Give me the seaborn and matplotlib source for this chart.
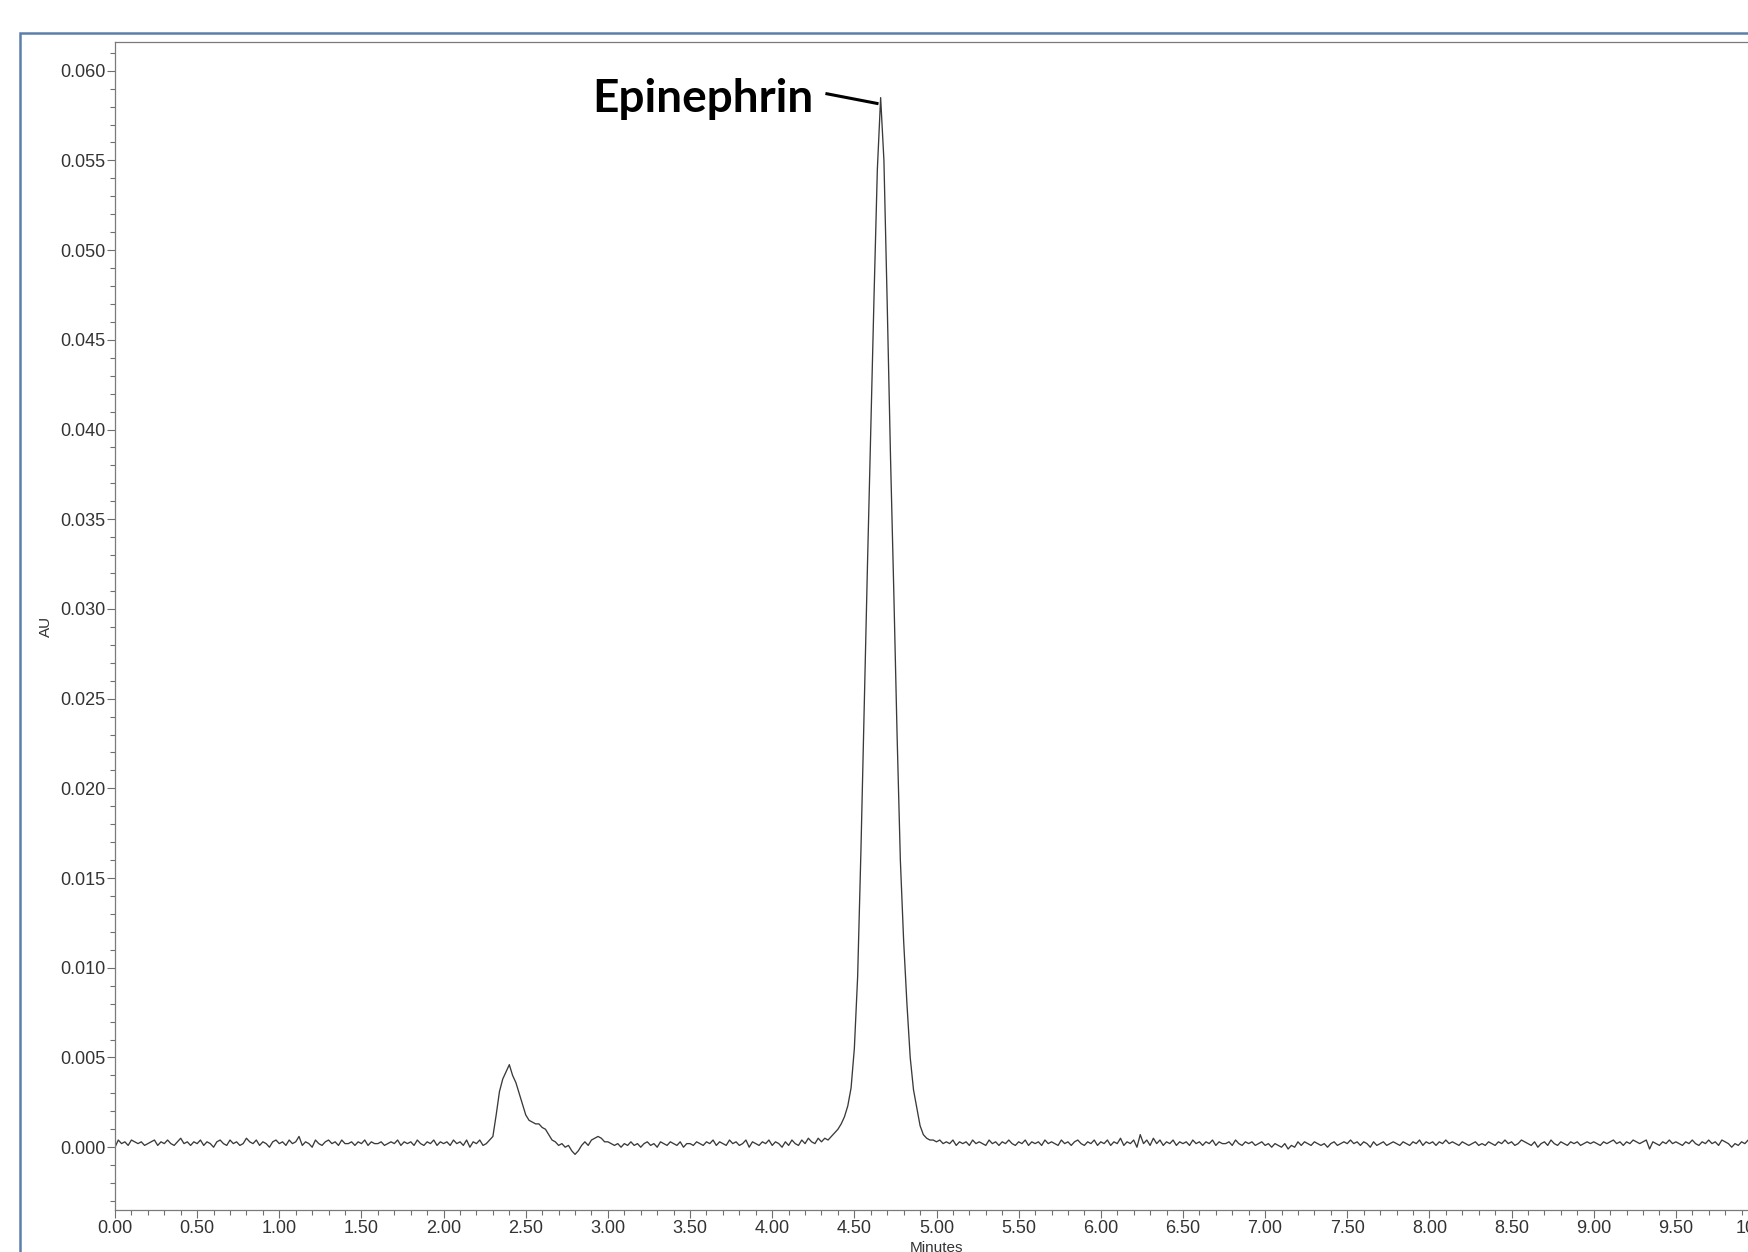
import numpy as np
import pandas as pd
import matplotlib
matplotlib.use('Agg')
import matplotlib.pyplot as plt
import matplotlib.ticker as mticker
from matplotlib.patches import Rectangle
import seaborn as sns

# 色谱图数据：每0.02分钟一个采样点，信号单位 mAU
t_start = 0.0
t_step = 0.02

signal_mau = [
    # 0.00 - 0.48
    0.0, 0.4, 0.2, 0.3, 0.1, 0.4, 0.3, 0.2, 0.3, 0.1, 0.2, 0.3, 0.4, 0.1, 0.3, 0.2, 0.4, 0.2, 0.1, 0.3, 0.5, 0.2, 0.3, 0.1, 0.3,
    # 0.50 - 0.98
    0.2, 0.4, 0.1, 0.3, 0.2, 0.0, 0.3, 0.4, 0.2, 0.1, 0.4, 0.2, 0.3, 0.1, 0.2, 0.5, 0.3, 0.2, 0.4, 0.1, 0.3, 0.2, 0.0, 0.3, 0.4,
    # 1.00 - 1.48
    0.2, 0.3, 0.1, 0.4, 0.2, 0.3, 0.6, 0.1, 0.3, 0.2, 0.0, 0.4, 0.2, 0.1, 0.3, 0.4, 0.2, 0.3, 0.1, 0.4, 0.2, 0.2, 0.3, 0.1, 0.3,
    # 1.50 - 1.98
    0.2, 0.4, 0.1, 0.3, 0.2, 0.2, 0.3, 0.1, 0.2, 0.3, 0.2, 0.4, 0.1, 0.3, 0.2, 0.3, 0.1, 0.4, 0.2, 0.1, 0.3, 0.2, 0.4, 0.1, 0.3,
    # 2.00 - 2.48 (小峰)
    0.2, 0.3, 0.1, 0.4, 0.2, 0.3, 0.1, 0.4, 0.0, 0.3, 0.2, 0.4, 0.1, 0.2, 0.4, 0.6, 1.8, 3.1, 3.8, 4.2, 4.6, 4.0, 3.6, 3.0, 2.4,
    # 2.50 - 2.98
    1.8, 1.5, 1.4, 1.3, 1.3, 1.1, 1.0, 0.7, 0.4, 0.3, 0.1, 0.2, 0.0, 0.1, -0.2, -0.4, -0.2, 0.1, 0.3, 0.1, 0.4, 0.5, 0.6, 0.5, 0.3,
    # 3.00 - 3.48
    0.3, 0.2, 0.1, 0.2, 0.0, 0.2, 0.1, 0.3, 0.1, 0.2, 0.0, 0.2, 0.3, 0.1, 0.2, 0.0, 0.3, 0.2, 0.1, 0.3, 0.2, 0.1, 0.3, 0.0, 0.2,
    # 3.50 - 3.98
    0.2, 0.1, 0.3, 0.2, 0.1, 0.3, 0.2, 0.4, 0.1, 0.3, 0.2, 0.1, 0.4, 0.2, 0.3, 0.1, 0.2, 0.4, 0.0, 0.3, 0.2, 0.1, 0.3, 0.2, 0.4,
    # 4.00 - 4.48
    0.1, 0.3, 0.2, 0.0, 0.3, 0.1, 0.4, 0.2, 0.1, 0.4, 0.2, 0.5, 0.3, 0.2, 0.5, 0.3, 0.5, 0.4, 0.6, 0.8, 1.0, 1.3, 1.7, 2.3, 3.3,
    # 4.50 - 4.98 (Epinephrin)
    5.5, 9.5, 16.5, 24.5, 32.5, 40.0, 47.5, 54.5, 58.5, 55.0, 47.0, 38.5, 31.0, 23.0, 16.0, 11.5, 8.0, 5.0, 3.2, 2.2, 1.2, 0.7, 0.5, 0.4, 0.4,
    # 5.00 - 5.48
    0.3, 0.4, 0.2, 0.3, 0.2, 0.4, 0.1, 0.3, 0.2, 0.3, 0.1, 0.4, 0.2, 0.3, 0.2, 0.1, 0.4, 0.2, 0.3, 0.1, 0.3, 0.2, 0.4, 0.2, 0.1,
    # 5.50 - 5.98
    0.3, 0.2, 0.4, 0.1, 0.3, 0.2, 0.3, 0.1, 0.4, 0.2, 0.3, 0.2, 0.1, 0.4, 0.2, 0.3, 0.1, 0.3, 0.4, 0.2, 0.1, 0.3, 0.2, 0.4, 0.1,
    # 6.00 - 6.48
    0.3, 0.2, 0.4, 0.1, 0.3, 0.2, 0.5, 0.1, 0.3, 0.2, 0.4, 0.0, 0.7, 0.2, 0.4, 0.1, 0.5, 0.2, 0.4, 0.1, 0.3, 0.2, 0.4, 0.1, 0.3,
    # 6.50 - 6.98
    0.2, 0.3, 0.1, 0.4, 0.2, 0.3, 0.1, 0.3, 0.2, 0.4, 0.1, 0.3, 0.2, 0.2, 0.3, 0.1, 0.4, 0.2, 0.1, 0.3, 0.2, 0.3, 0.1, 0.2, 0.3,
    # 7.00 - 7.48
    0.1, 0.2, 0.0, 0.2, 0.1, 0.0, 0.2, -0.1, 0.1, 0.0, 0.3, 0.1, 0.3, 0.2, 0.1, 0.3, 0.2, 0.1, 0.2, 0.0, 0.2, 0.3, 0.1, 0.2, 0.3,
    # 7.50 - 7.98
    0.2, 0.4, 0.2, 0.3, 0.1, 0.3, 0.2, 0.0, 0.3, 0.1, 0.2, 0.3, 0.1, 0.2, 0.3, 0.2, 0.1, 0.3, 0.2, 0.1, 0.3, 0.2, 0.4, 0.1, 0.3,
    # 8.00 - 8.48
    0.2, 0.3, 0.1, 0.3, 0.2, 0.4, 0.2, 0.3, 0.2, 0.1, 0.3, 0.2, 0.1, 0.2, 0.3, 0.1, 0.2, 0.1, 0.3, 0.2, 0.1, 0.3, 0.2, 0.4, 0.2,
    # 8.50 - 8.98
    0.3, 0.1, 0.2, 0.4, 0.3, 0.2, 0.1, 0.3, 0.0, 0.2, 0.3, 0.1, 0.4, 0.2, 0.1, 0.3, 0.2, 0.1, 0.3, 0.2, 0.3, 0.1, 0.2, 0.3, 0.2,
    # 9.00 - 9.48
    0.3, 0.2, 0.1, 0.3, 0.2, 0.3, 0.4, 0.2, 0.3, 0.1, 0.3, 0.2, 0.4, 0.3, 0.2, 0.3, 0.4, -0.1, 0.3, 0.2, 0.1, 0.3, 0.2, 0.4, 0.2,
    # 9.50 - 9.98
    0.3, 0.2, 0.1, 0.3, 0.2, 0.4, 0.2, 0.1, 0.3, 0.2, 0.4, 0.2, 0.3, 0.1, 0.4, 0.3, 0.2, 0.0, 0.2, 0.1, 0.3, 0.2, 0.4, 0.2, 0.3,
    # 10.00
    0.3,
]

# 峰标注
peak_name = 'Epinephrin'
peak_label_x = 4.25      # 文字右端（分钟）
peak_label_y = 0.0577    # 文字基线（AU）
leader_x = [4.324, 4.647]
leader_y = [0.05873, 0.05816]

x_major = [0.5 * i for i in range(21)]
y_major = [0.005 * i for i in range(13)]

# 数据表
minutes = np.round(t_start + t_step * np.arange(len(signal_mau)), 2)
chrom = pd.DataFrame({'Minutes': minutes, 'AU': np.array(signal_mau) / 1000.0})

sns.set_style('white')
plt.rcParams['font.family'] = ['Liberation Sans', 'DejaVu Sans']

W, H = 1748, 1252
fig = plt.figure(figsize=(W / 100, H / 100), dpi=100)
ax = fig.add_axes([115 / W, (H - 1210) / H, (1758 - 115) / W, (1210 - 42) / H])

sns.lineplot(data=chrom, x='Minutes', y='AU', ax=ax, color='#3a3a3a',
             linewidth=0.95, estimator=None, sort=False)

ax.set_xlim(0, 10)
ax.set_ylim(-0.0035, 0.0616)

ax.set_xticks(x_major)
ax.set_yticks(y_major)
ax.xaxis.set_major_formatter(mticker.FormatStrFormatter('%.2f'))
ax.yaxis.set_major_formatter(mticker.FormatStrFormatter('%.3f'))
ax.xaxis.set_minor_locator(mticker.MultipleLocator(0.1))
ax.yaxis.set_minor_locator(mticker.MultipleLocator(0.001))

ax.tick_params(axis='both', which='major', direction='out', length=6, width=0.8,
               color='#6f6f6f', labelsize=13, labelcolor='#333333', pad=1)
ax.tick_params(axis='both', which='minor', direction='out', length=3.5, width=0.8,
               color='#6f6f6f')
ax.tick_params(axis='x', which='both', bottom=True)
ax.tick_params(axis='y', which='both', left=True)

for sp in ax.spines.values():
    sp.set_color('#7a7a7a')
    sp.set_linewidth(0.9)

ax.set_xlabel('Minutes', fontsize=11, color='#333333', labelpad=3)
ax.set_ylabel('AU', fontsize=11, color='#333333', labelpad=5)

# 峰名称和引线
ax.text(peak_label_x, peak_label_y, peak_name, ha='right', va='baseline',
        fontsize=33, fontweight='bold', family=['Lato', 'DejaVu Sans'], color='black')
ax.plot(leader_x, leader_y, color='black', linewidth=2.2, solid_capstyle='butt')

# 外框
fig.add_artist(Rectangle((20 / W, -0.1), 1.2, 1 - 33 / H + 0.1,
                         transform=fig.transFigure, fill=False,
                         edgecolor='#5b7fa9', linewidth=1.8))

fig.savefig('out.png', dpi=100)
